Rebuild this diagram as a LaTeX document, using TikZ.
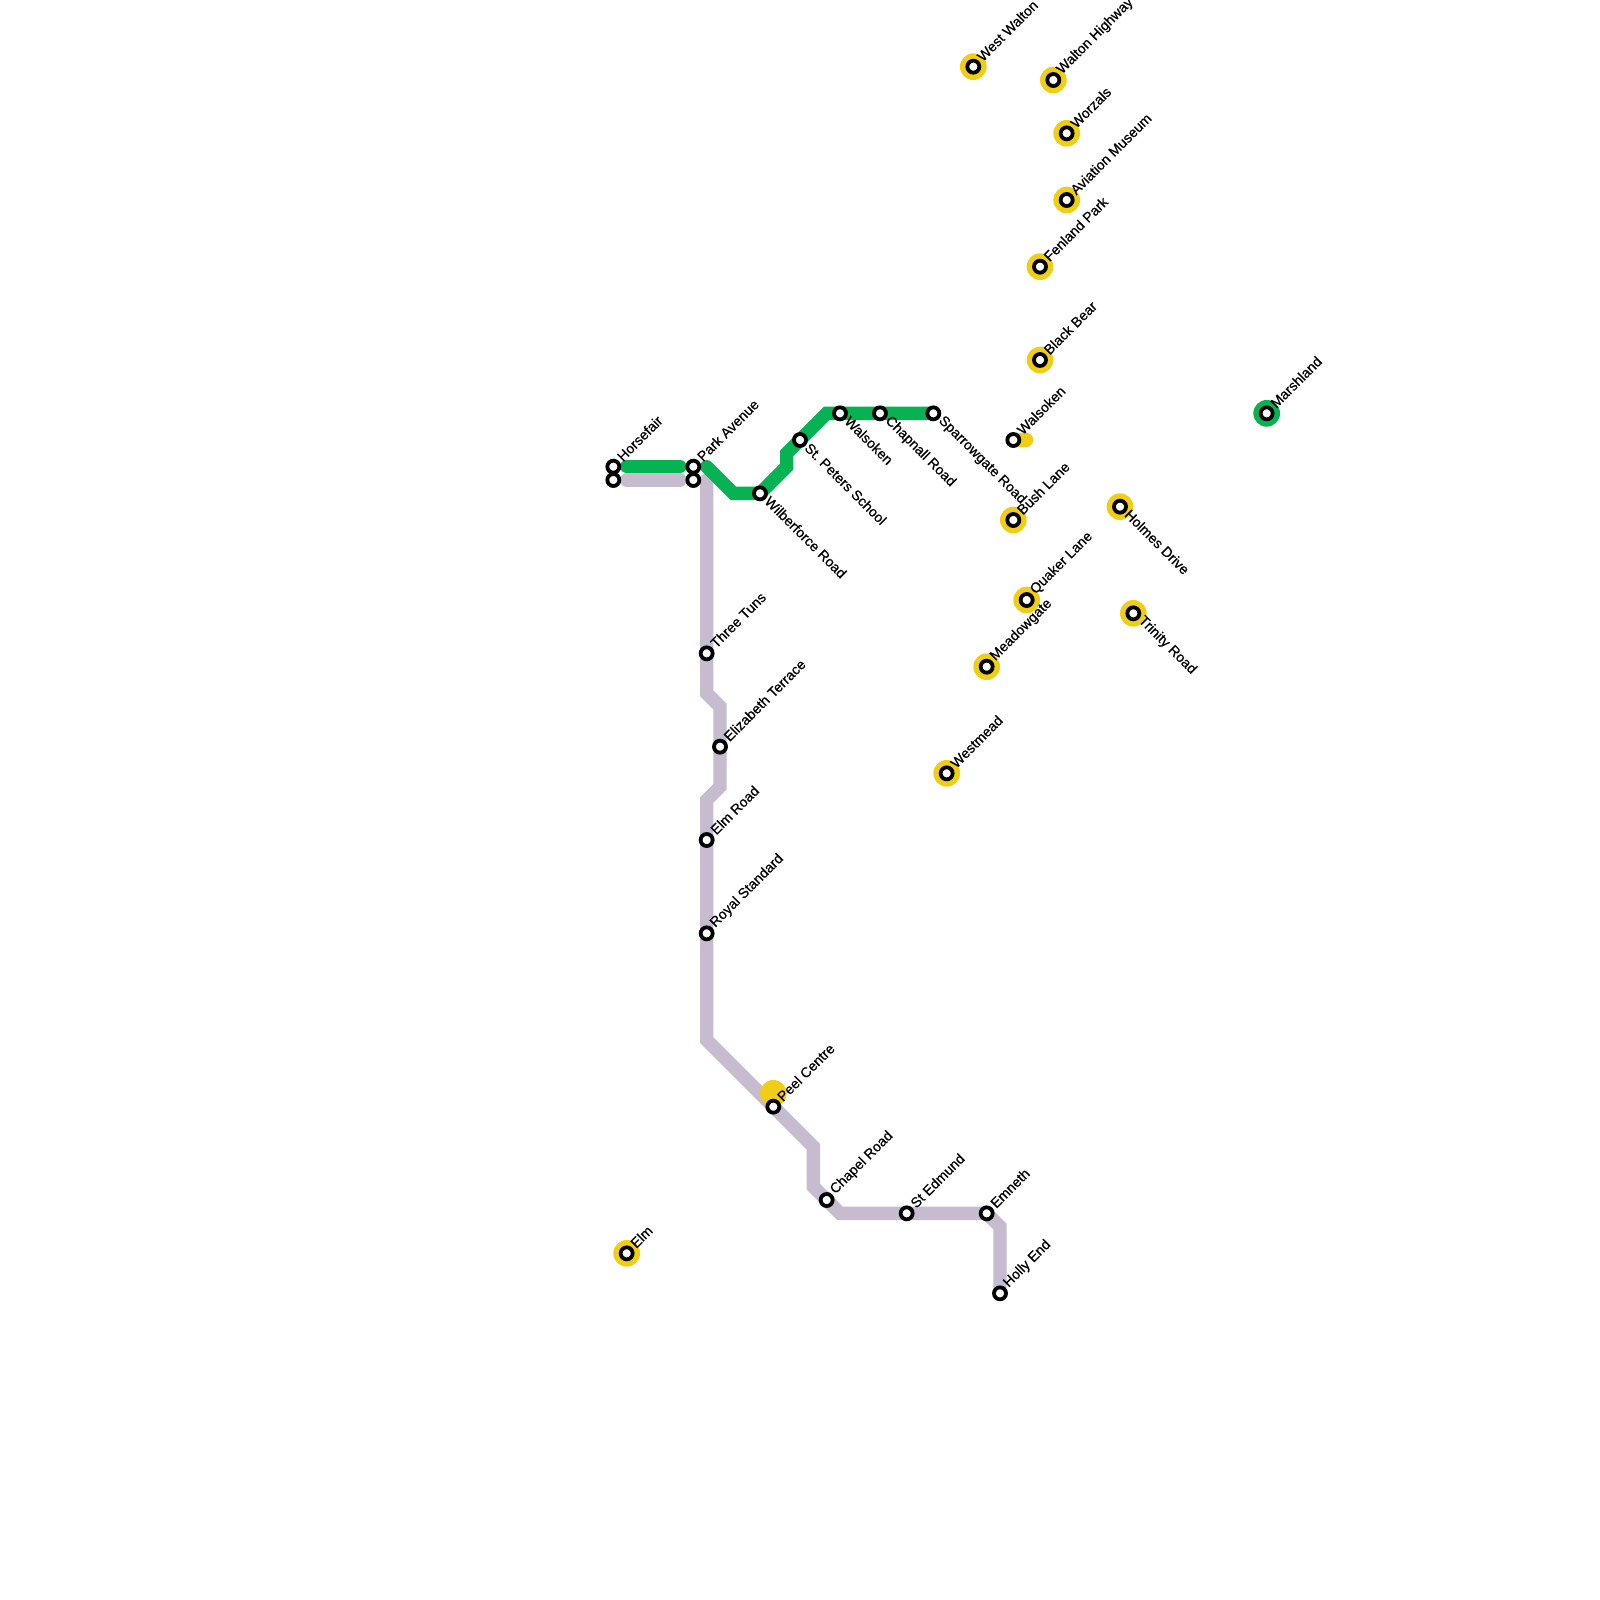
\documentclass[tikz,border=0pt]{standalone}
\usepackage{fontspec}
\setmainfont{Liberation Sans}[FakeBold=0.6]
\usepackage{xcolor}
\definecolor{linegreen}{RGB}{6, 178, 82}
\definecolor{linepurple}{RGB}{198, 187, 207}
\definecolor{halo}{RGB}{240, 206, 21}
\frenchspacing
\tikzset{
    routeline/.style={line width=1/3*1cm, line cap=round, line join=miter},
    stnring/.style={circle, draw=black, fill=white, line width=0.095cm, minimum size=0.3cm, inner sep=0pt},
    stnhalo/.style={circle, fill=halo, minimum size=0.667cm, inner sep=0pt},
    lblup/.style={anchor=west, rotate=45, inner sep=0pt, font=\fontsize{10}{12}\selectfont, shift={(0.245cm,0.033cm)}},
    lbldown/.style={anchor=west, rotate=-45, inner sep=0pt, font=\fontsize{10}{12}\selectfont, shift={(0.221cm,0.033cm)}},
}

\begin{document}
\begin{tikzpicture}[x=1cm/3, y=-1cm/3]
    \useasboundingbox (0,0) rectangle (120,120);
    \fill[white] (0,0) rectangle (120,120);

    % Station positions
    \foreach \stn/\px/\py in {horsefairA/46/35, horsefairB/46/36, parkA/52/35, parkB/52/36,
        wilberforce/57/37, peters/60/33, walsokenA/63/31, chapnall/66/31, sparrowgate/70/31,
        threetuns/53/49, elizabeth/54/56, elmroad/53/63, royal/53/70, peel/58/83,
        chapel/62/90, edmund/68/91, emneth/74/91, holly/75/97,
        westwalton/73/5, waltonhigh/79/6, worzals/80/10, aviation/80/15, fenland/78/20,
        blackbear/78/27, walsokenB/76/33, bushlane/76/39, holmes/84/38, trinity/85/46,
        quaker/77/45, meadow/74/50, westmead/71/58, marshland/95/31, elm/47/94}
        \coordinate (\stn) at (\px,\py);

    % Bends
    \coordinate (ga) at (47,35);
    \coordinate (gb) at (51,35);
    \coordinate (gc) at (53,35);
    \coordinate (gd) at (55,37);
    \coordinate (ge) at (59,35);
    \coordinate (gf) at (59,34);
    \coordinate (gg) at (62,31);
    \coordinate (pa) at (47,36);
    \coordinate (pb) at (51,36);
    \coordinate (pc) at (53,36);
    \coordinate (pd) at (53,52);
    \coordinate (pe) at (54,53);
    \coordinate (pf) at (54,59);
    \coordinate (pg) at (53,60);
    \coordinate (ph) at (53,78);
    \coordinate (pi) at (61,86);
    \coordinate (pj) at (61,89);
    \coordinate (pk) at (63,91);
    \coordinate (pl) at (75,92);

    % Purple line
    \draw[routeline, linepurple] (pa) -- (pb);
    \draw[routeline, linepurple] (pc) -- (pd) -- (pe) -- (pf) -- (pg) -- (ph) -- (pi) -- (pj) -- (pk) -- (emneth) -- (pl) -- (holly);

    % Green line
    \draw[routeline, linegreen] (ga) -- (gb);
    \draw[routeline, linegreen] (gc) -- (gd) -- (wilberforce) -- (ge) -- (gf) -- (gg) -- (sparrowgate);

    % Yellow stub
    \coordinate (stubend) at (77,33);
    \draw[routeline, halo] (walsokenB) -- (stubend);

    % Halos
    \foreach \stn in {westwalton, waltonhigh, worzals, aviation, fenland, blackbear, bushlane,
        holmes, trinity, quaker, meadow, westmead, elm}
        \node[stnhalo] (halo-\stn) at (\stn) {};
    \node[stnhalo, fill=linegreen] (halo-marshland) at (marshland) {};
    \coordinate (peeltop) at (58,82);
    \node[stnhalo] (halo-peel) at (peeltop) {};

    % Rings
    \foreach \stn in {horsefairA, horsefairB, parkA, parkB, wilberforce, peters, walsokenA, chapnall,
        sparrowgate, threetuns, elizabeth, elmroad, royal, peel, chapel, edmund, emneth, holly,
        westwalton, waltonhigh, worzals, aviation, fenland, blackbear, walsokenB, bushlane, holmes,
        trinity, quaker, meadow, westmead, marshland, elm}
        \node[stnring] (ring-\stn) at (\stn) {};

    % Labels
    \foreach \stn/\txt in {horsefairA/Horsefair, parkA/Park Avenue, threetuns/Three Tuns,
        elizabeth/Elizabeth Terrace, elmroad/Elm Road, royal/Royal Standard, peel/Peel Centre,
        chapel/Chapel Road, edmund/St Edmund, emneth/Emneth, holly/Holly End,
        westwalton/West Walton, waltonhigh/Walton Highway, worzals/Worzals, aviation/Aviation Museum,
        fenland/Fenland Park, blackbear/Black Bear, walsokenB/Walsoken, bushlane/Bush Lane,
        quaker/Quaker Lane, meadow/Meadowgate, westmead/Westmead, marshland/Marshland, elm/Elm}
        \node[lblup] (lbl-\stn) at (\stn) {\txt};
    \foreach \stn/\txt in {wilberforce/Wilberforce Road, peters/St. Peters School, walsokenA/Walsoken,
        chapnall/Chapnall Road, sparrowgate/Sparrowgate Road, holmes/Holmes Drive, trinity/Trinity Road}
        \node[lbldown] (lbl-\stn) at (\stn) {\txt};
\end{tikzpicture}
\end{document}
